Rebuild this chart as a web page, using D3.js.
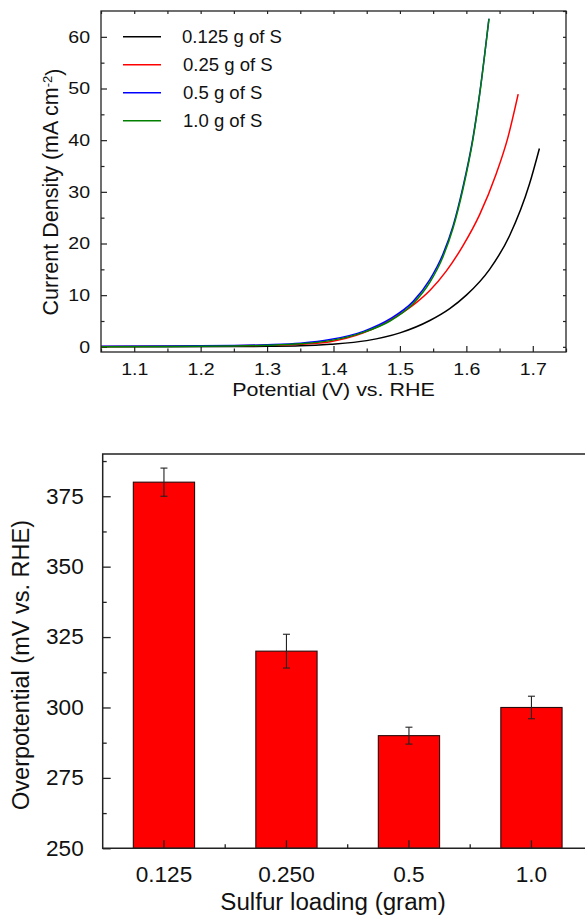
<!DOCTYPE html>
<html>
<head>
<meta charset="utf-8">
<script src="https://cdn.jsdelivr.net/npm/d3@7"></script>
<style>
  body { margin: 0; background: #fff; }
  text { font-family: "Liberation Sans", Arial, sans-serif; fill: #111; }
</style>
</head>
<body>
<svg id="fig" width="585" height="916"></svg>
<script>
// ---- LSV polarization curves (top panel) ----
const seriesLabels = ["0.125 g of S", "0.25 g of S", "0.5 g of S", "1.0 g of S"];

const potential0125 = [1.05, 1.15, 1.25, 1.30, 1.35, 1.395, 1.45, 1.50, 1.545, 1.575, 1.60, 1.635, 1.665, 1.695, 1.71];
const current0125   = [0.0, 0.02, 0.05, 0.1, 0.2, 0.5, 1.2, 2.7, 5.1, 7.4, 10.0, 15.0, 21.5, 31.5, 38.4];

const potential025  = [1.05, 1.15, 1.25, 1.30, 1.35, 1.395, 1.445, 1.495, 1.525, 1.545, 1.57, 1.595, 1.62, 1.645, 1.6625, 1.678];
const current025    = [0.05, 0.1, 0.2, 0.3, 0.5, 1.0, 2.7, 5.9, 8.6, 10.9, 14.7, 19.6, 25.6, 33.5, 40.5, 48.9];

const potential05   = [1.05, 1.15, 1.25, 1.30, 1.35, 1.395, 1.445, 1.485, 1.52, 1.545, 1.565, 1.58, 1.595, 1.61, 1.62, 1.634];
const current05     = [0.1, 0.15, 0.25, 0.4, 0.7, 1.4, 3.0, 5.4, 8.8, 13.0, 18.0, 23.4, 31.0, 40.5, 49.0, 63.5];

const potential10   = [1.05, 1.15, 1.25, 1.30, 1.35, 1.395, 1.445, 1.485, 1.52, 1.545, 1.565, 1.58, 1.595, 1.61, 1.62, 1.634];
const current10     = [0.0, 0.05, 0.15, 0.3, 0.6, 1.2, 2.8, 5.0, 8.4, 12.5, 17.5, 23.0, 30.6, 40.2, 48.8, 63.5];

const potentialTicks = [1.1, 1.2, 1.3, 1.4, 1.5, 1.6, 1.7];
const currentTicks   = [0, 10, 20, 30, 40, 50, 60];

// ---- Overpotential vs. sulfur loading (bottom panel) ----
const loadings      = ["0.125", "0.250", "0.5", "1.0"];
const overpotential = [380, 320, 290, 300];
const overpotErr    = [5, 6, 3, 4];
const overpotTicks  = [250, 275, 300, 325, 350, 375];

const lineColors = ["#000000", "#ff0000", "#0000ff", "#007f00"];

const svg = d3.select("#fig");
const FONT = '"Liberation Sans", Arial, sans-serif';

// stretch text horizontally around its anchor (keeps x offsets in place)
function stretchTexts(sel, size, sx) {
  sel.selectAll("text").each(function () {
    const t = d3.select(this);
    const x0 = +t.attr("x") || 0;
    t.attr("x", x0 / sx)
     .attr("transform", `scale(${sx},1)`)
     .style("font-size", size + "px")
     .style("font-family", FONT)
     .attr("fill", "#111");
  });
}

function styleAxis(g, color, width) {
  g.select(".domain").remove();
  g.selectAll(".tick line").attr("stroke", color).attr("stroke-width", width);
}

/* ===================== TOP PANEL ===================== */
const T = { left: 101, right: 566, top: 11, bottom: 352 };
const x = d3.scaleLinear().domain([1.05, 1.75]).range([T.left, T.right]);
const y = d3.scaleLinear().domain([-1, 65]).range([T.bottom, T.top]);

const panelA = svg.append("g");

panelA.append("clipPath").attr("id", "clipTop")
  .append("rect").attr("x", T.left).attr("y", T.top)
  .attr("width", T.right - T.left).attr("height", T.bottom - T.top);

const minorX = d3.range(1.05, 1.76, 0.1).map(v => +v.toFixed(2));
const minorY = d3.range(5, 60, 10);
const allX = d3.range(1.05, 1.751, 0.05).map(v => +v.toFixed(2));
const allY = d3.range(0, 66, 5);

// bottom axis: labelled major ticks + minor ticks, pointing inward
const gxb = panelA.append("g").attr("transform", `translate(0,${T.bottom})`)
  .call(d3.axisBottom(x).tickValues(potentialTicks).tickSize(-6).tickPadding(11).tickFormat(d3.format(".1f")));
styleAxis(gxb, "#222", 1.2);
stretchTexts(gxb, 17, 1.15);
const gxm = panelA.append("g").attr("transform", `translate(0,${T.bottom})`)
  .call(d3.axisBottom(x).tickValues(minorX).tickSize(-3.5).tickFormat(""));
styleAxis(gxm, "#222", 1.2);

// left axis
const gyl = panelA.append("g").attr("transform", `translate(${T.left},0)`)
  .call(d3.axisLeft(y).tickValues(currentTicks).tickSize(-6).tickPadding(11).tickFormat(d3.format("d")));
styleAxis(gyl, "#222", 1.2);
stretchTexts(gyl, 17, 1.15);
const gym = panelA.append("g").attr("transform", `translate(${T.left},0)`)
  .call(d3.axisLeft(y).tickValues(minorY).tickSize(-3.5).tickFormat(""));
styleAxis(gym, "#222", 1.2);

// top and right mirror ticks
const gxt = panelA.append("g").attr("transform", `translate(0,${T.top})`)
  .call(d3.axisTop(x).tickValues(allX).tickSize(-3).tickFormat(""));
styleAxis(gxt, "#222", 1.2);
const gyr = panelA.append("g").attr("transform", `translate(${T.right},0)`)
  .call(d3.axisRight(y).tickValues(allY).tickSize(-3).tickFormat(""));
styleAxis(gyr, "#222", 1.2);

// curves
const seriesData = [
  d3.zip(potential0125, current0125),
  d3.zip(potential025, current025),
  d3.zip(potential05, current05),
  d3.zip(potential10, current10)
];
const line = d3.line().x(d => x(d[0])).y(d => y(d[1])).curve(d3.curveMonotoneX);
panelA.append("g").attr("clip-path", "url(#clipTop)")
  .selectAll("path").data(seriesData).join("path")
  .attr("d", line)
  .attr("fill", "none")
  .attr("stroke", (d, i) => lineColors[i])
  .attr("stroke-width", 1.5);

// frame
panelA.append("rect")
  .attr("x", T.left).attr("y", T.top)
  .attr("width", T.right - T.left).attr("height", T.bottom - T.top)
  .attr("fill", "none").attr("stroke", "#222").attr("stroke-width", 1.3);

// legend
const legY = d3.scalePoint().domain(seriesLabels).range([36.7, 120.7]);
const leg = panelA.append("g");
seriesLabels.forEach((lab, i) => {
  leg.append("line")
    .attr("x1", 123).attr("x2", 161)
    .attr("y1", legY(lab)).attr("y2", legY(lab))
    .attr("stroke", lineColors[i]).attr("stroke-width", 1.5);
  leg.append("text")
    .attr("transform", `translate(${i === 0 ? 182 : 183},${legY(lab)}) scale(1.06,1)`)
    .attr("dy", "0.35em")
    .style("font-size", "17.5px")
    .text(lab);
});

// axis titles
panelA.append("text")
  .attr("transform", `translate(${(T.left + T.right) / 2},396) scale(1.16,1)`)
  .attr("text-anchor", "middle")
  .style("font-size", "18.5px")
  .text("Potential (V) vs. RHE");

const yTitle = panelA.append("text")
  .attr("transform", `translate(57.5,192) rotate(-90)`)
  .attr("text-anchor", "middle")
  .style("font-size", "21.5px");
yTitle.append("tspan").text("Current Density (mA cm");
yTitle.append("tspan").attr("dy", "-0.45em").style("font-size", "13px").text("-2");
yTitle.append("tspan").attr("dy", "0.45em").text(")");

/* ===================== BOTTOM PANEL ===================== */
const B = { left: 102.7, right: 592.7, top: 454, bottom: 848.3 };
const xb = d3.scaleBand().domain(loadings).range([B.left, B.right])
  .paddingInner(0.5).paddingOuter(0.25);
const yb = d3.scaleLinear().domain([250, 390]).range([B.bottom, B.top]);

const panelB = svg.append("g");

// bars
panelB.selectAll("rect.bar").data(loadings).join("rect")
  .attr("class", "bar")
  .attr("x", d => xb(d))
  .attr("width", xb.bandwidth())
  .attr("y", (d, i) => yb(overpotential[i]))
  .attr("height", (d, i) => yb(250) - yb(overpotential[i]))
  .attr("fill", "#ff0000")
  .attr("stroke", "#2a0a0a")
  .attr("stroke-width", 1.1);

// error bars
const eb = panelB.append("g").attr("stroke", "#222").attr("stroke-width", 1.1);
loadings.forEach((d, i) => {
  const cx = xb(d) + xb.bandwidth() / 2;
  const y1 = yb(overpotential[i] + overpotErr[i]);
  const y0 = yb(overpotential[i] - overpotErr[i]);
  eb.append("line").attr("x1", cx).attr("x2", cx).attr("y1", y1).attr("y2", y0);
  eb.append("line").attr("x1", cx - 3.5).attr("x2", cx + 3.5).attr("y1", y1).attr("y2", y1);
  eb.append("line").attr("x1", cx - 3.5).attr("x2", cx + 3.5).attr("y1", y0).attr("y2", y0);
});

// x axis with inward ticks at bar centres
const gbx = panelB.append("g").attr("transform", `translate(0,${B.bottom})`)
  .call(d3.axisBottom(xb).tickSize(-8).tickPadding(18));
styleAxis(gbx, "#222", 1.3);
stretchTexts(gbx, 21.5, 1.05);

// short ticks on the band boundaries
const gap = xb.step() - xb.bandwidth();
panelB.append("g").selectAll("line").data(loadings.slice(1)).join("line")
  .attr("x1", d => xb(d) - gap / 2).attr("x2", d => xb(d) - gap / 2)
  .attr("y1", B.bottom).attr("y2", B.bottom - 4)
  .attr("stroke", "#222").attr("stroke-width", 1.3);

// y axis
const gby = panelB.append("g").attr("transform", `translate(${B.left},0)`)
  .call(d3.axisLeft(yb).tickValues(overpotTicks).tickSize(-8).tickPadding(19));
styleAxis(gby, "#222", 1.3);
stretchTexts(gby, 21.5, 1.05);
const gbym = panelB.append("g").attr("transform", `translate(${B.left},0)`)
  .call(d3.axisLeft(yb).tickValues(d3.range(262.5, 390, 25)).tickSize(-4).tickFormat(""));
styleAxis(gbym, "#222", 1.3);

// frame lines (left, bottom, top)
panelB.append("path")
  .attr("d", `M${B.right},${B.top}H${B.left}V${B.bottom}H${B.right}`)
  .attr("fill", "none").attr("stroke", "#222").attr("stroke-width", 1.5);

// titles
panelB.append("text")
  .attr("transform", `translate(333,910) scale(1.05,1)`)
  .attr("text-anchor", "middle")
  .style("font-size", "23px")
  .text("Sulfur loading (gram)");

panelB.append("text")
  .attr("transform", `translate(28.5,665) rotate(-90)`)
  .attr("text-anchor", "middle")
  .style("font-size", "23.5px")
  .text("Overpotential (mV vs. RHE)");
</script>
</body>
</html>
